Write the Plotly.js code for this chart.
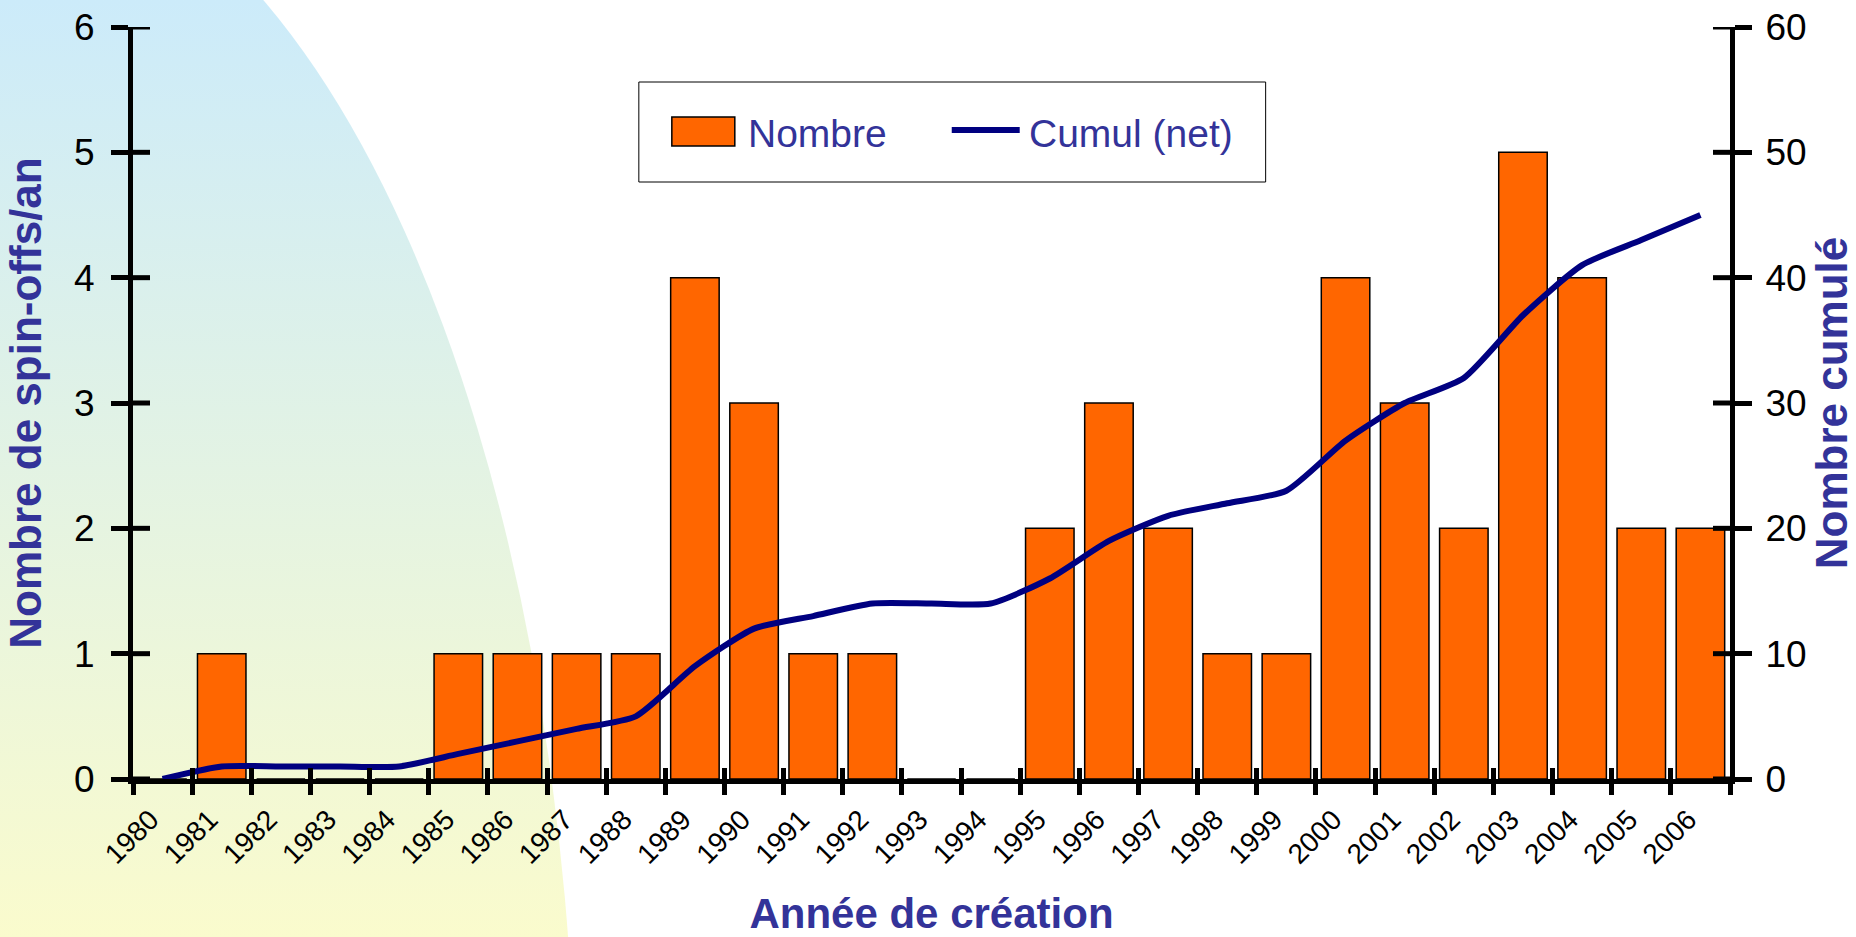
<!DOCTYPE html>
<html><head><meta charset="utf-8">
<script src="https://cdn.plot.ly/plotly-3.0.1.min.js"></script>
<style>
html,body{margin:0;padding:0;background:#fff;}
#wrap{position:relative;width:1856px;height:937px;overflow:hidden;background:#fff;}
#bg{position:absolute;left:0;top:0;width:1856px;height:937px;background:linear-gradient(to bottom,#CCEBFA 0%,#FAFBCD 100%);clip-path:ellipse(586px 1300px at -10px 1150px);}
#chart{position:absolute;left:0;top:0;width:1856px;height:937px;}
</style></head>
<body><div id="wrap"><div id="bg"></div><div id="chart"></div></div>
<script>
// ---- data ----
const years = ['1980','1981','1982','1983','1984','1985','1986','1987','1988','1989','1990','1991','1992','1993','1994','1995','1996','1997','1998','1999','2000','2001','2002','2003','2004','2005','2006'];
const nombre = [0,1,0,0,0,1,1,1,1,4,3,1,1,0,0,2,3,2,1,1,4,3,2,5,4,2,2];
const cumul  = [0,1,1,1,1,2,3,4,5,9,12,13,14,14,14,16,19,21,22,23,27,30,32,37,41,43,45];
const leftTicks = [0,1,2,3,4,5,6];
const rightTicks = [0,10,20,30,40,50,60];
const seriesNames = ['Nombre','Cumul (net)'];
const titles = {x:'Année de création', y:'Nombre de spin-offs/an', y2:'Nombre cumulé'};

// ---- styling ----
const FONT = 'Arial, "Liberation Sans", sans-serif';
const BLUE_TXT = '#333399';
const BAR_COL = '#FF6600';
const LINE_COL = '#000080';
const W = 1856, H = 937;
const L = 133, R = 1730.5, T = 27, B = 779;
const TICKLEN = 17;
const px2x = p => (p - L) / (R - L);
const py2y = p => (B - p) / (B - T);

const traces = [
  {type:'bar', x:years, y:nombre, name:seriesNames[0], xaxis:'x', yaxis:'y',
   marker:{color:BAR_COL, line:{color:'#000', width:1.5}}, showlegend:false},
  {type:'scatter', mode:'lines', x:years, y:cumul, name:seriesNames[1], xaxis:'x', yaxis:'y2',
   line:{color:LINE_COL, width:6, shape:'spline', smoothing:0.6}, showlegend:false},
  // invisible helper so that the upper half of the crossing x tick marks gets drawn
  {type:'scatter', mode:'markers', x:years, y:nombre, xaxis:'x2', yaxis:'y',
   marker:{opacity:0}, hoverinfo:'skip', showlegend:false}
];

const tickFontY = {family:FONT, size:37, color:'#000'};
const titleFont = {family:FONT, size:44, color:BLUE_TXT, weight:'bold'};

// inner halves of the crossing y tick marks
const innerTicks = [];
leftTicks.forEach(v => innerTicks.push({type:'line', xref:'paper', yref:'y',
  x0:0, x1:px2x(L + TICKLEN), y0:v, y1:v, line:{color:'#000', width:5}, layer:'above'}));
rightTicks.forEach(v => innerTicks.push({type:'line', xref:'paper', yref:'y2',
  x0:px2x(R - TICKLEN), x1:1, y0:v, y1:v, line:{color:'#000', width:5}, layer:'above'}));

const layout = {
  width:W, height:H,
  margin:{l:L, r:W-R, t:T, b:H-B, pad:0},
  paper_bgcolor:'rgba(0,0,0,0)', plot_bgcolor:'rgba(0,0,0,0)',
  showlegend:false,
  bargap:0.18,
  font:{family:FONT},
  xaxis:{type:'category', range:[-0.5, years.length-0.5], tickson:'boundaries',
    ticks:'outside', ticklen:11, tickwidth:5, tickcolor:'#000',
    showline:true, linewidth:5, linecolor:'#000', showgrid:false, zeroline:false,
    tickangle:-45, tickfont:{family:FONT, size:28, color:'#000'}, ticklabelstandoff:8, ticklabelshift:-12,
    title:{text:titles.x, font:{family:FONT, size:42, color:BLUE_TXT, weight:'bold'}, standoff:47}},
  xaxis2:{type:'category', overlaying:'x', anchor:'y', side:'bottom',
    range:[-0.5, years.length-0.5], tickson:'boundaries',
    ticks:'inside', ticklen:11, tickwidth:5, tickcolor:'#000',
    showticklabels:false, showline:false, showgrid:false, zeroline:false},
  yaxis:{range:[0,6], tickvals:leftTicks, ticks:'outside', ticklen:TICKLEN, tickwidth:5, tickcolor:'#000',
    showline:true, linewidth:5, linecolor:'#000', showgrid:false, zeroline:false,
    tickfont:tickFontY, ticklabelstandoff:9,
    title:{text:titles.y, font:titleFont, standoff:20}},
  yaxis2:{range:[0,60], tickvals:rightTicks, overlaying:'y', side:'right', anchor:'x',
    ticks:'outside', ticklen:TICKLEN, tickwidth:5, tickcolor:'#000',
    showline:true, linewidth:5, linecolor:'#000', showgrid:false, zeroline:false,
    tickfont:tickFontY, ticklabelstandoff:6,
    title:{text:titles.y2, font:titleFont, standoff:10}},
  shapes:[
    ...innerTicks,
    {type:'rect', xref:'paper', yref:'paper', x0:px2x(639), x1:px2x(1266), y0:py2y(182), y1:py2y(82),
     line:{color:'#000', width:1}, fillcolor:'#fff', layer:'above'},
    {type:'rect', xref:'paper', yref:'paper', x0:px2x(672), x1:px2x(735), y0:py2y(146), y1:py2y(117),
     line:{color:'#000', width:1.5}, fillcolor:BAR_COL, layer:'above'},
    {type:'line', xref:'paper', yref:'paper', x0:px2x(952), x1:px2x(1020), y0:py2y(130), y1:py2y(130),
     line:{color:LINE_COL, width:6}, layer:'above'}
  ],
  annotations:[
    {xref:'paper', yref:'paper', x:px2x(746), y:py2y(133), xanchor:'left', yanchor:'middle',
     text:seriesNames[0], showarrow:false, font:{family:FONT, size:39, color:BLUE_TXT}},
    {xref:'paper', yref:'paper', x:px2x(1027), y:py2y(133), xanchor:'left', yanchor:'middle',
     text:seriesNames[1], showarrow:false, font:{family:FONT, size:39, color:BLUE_TXT}}
  ]
};

Plotly.newPlot('chart', traces, layout, {displayModeBar:false, staticPlot:true});
</script>
</body></html>
